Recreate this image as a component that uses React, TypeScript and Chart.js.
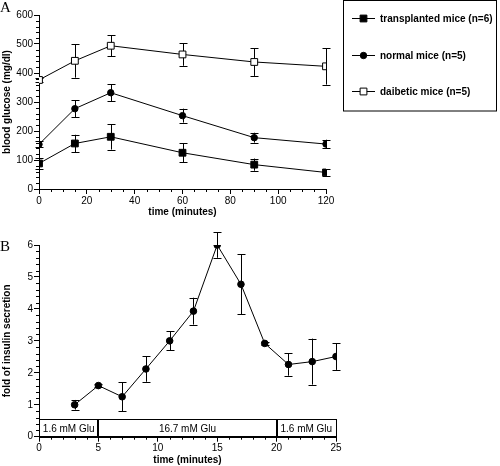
import React, { useEffect, useRef } from "react";
import { Chart, registerables } from "chart.js";

Chart.register(...registerables);

// ---------- Panel A data ----------
const timeA = [0, 15, 30, 60, 90, 120];
const transplanted = [88, 157, 180, 125, 84, 57];
const transplantedErr = [18, 30, 44, 33, 21, 12];
const normal = [154, 277, 332, 253, 177, 155];
const normalErr = [10, 29, 30, 24, 17, 15];
const diabetic = [376, 442, 494, 464, 438, 423];
const diabeticErr = [8, 58, 37, 39, 48, 63];
const seriesLabelsA = ["transplanted mice (n=6)", "normal mice (n=5)", "daibetic mice (n=5)"];

// ---------- Panel B data ----------
const timeB = [3, 5, 7, 9, 11, 13, 15, 17, 19, 21, 23, 25];
const insulin = [1.0, 1.6, 1.25, 2.12, 3.0, 3.93, 6.0, 4.77, 2.92, 2.26, 2.35, 2.51];
const insulinErr = [0.15, 0.05, 0.45, 0.4, 0.3, 0.42, 0.4, 0.94, 0.05, 0.35, 0.72, 0.42];
const glucoseSegmentLabels = ["1.6 mM Glu", "16.7 mM Glu", "1.6 mM Glu"];
const glucoseSegmentBounds = [0, 5, 20, 25];
const glucoseBoxTop = 0.55;

const SANS = "'Liberation Sans', Arial, Helvetica, sans-serif";
const SERIF = "'Liberation Serif', 'Times New Roman', serif";

const pts = (xs: number[], ys: number[]) => xs.map((x, i) => ({ x, y: ys[i] }));

function drawMarker(ctx: CanvasRenderingContext2D, style: string, x: number, y: number, r: number, fill: string) {
  ctx.save();
  ctx.fillStyle = fill;
  ctx.strokeStyle = "#000";
  ctx.lineWidth = 1;
  ctx.beginPath();
  if (style === "rect") {
    const s = Math.SQRT1_2 * r;
    ctx.rect(x - s, y - s, 2 * s, 2 * s);
  } else {
    ctx.arc(x, y, r, 0, Math.PI * 2);
  }
  ctx.fill();
  ctx.stroke();
  ctx.restore();
}

const errorBarPlugin = {
  id: "errorBars",
  beforeDatasetsDraw(chart: any) {
    const ctx = chart.ctx as CanvasRenderingContext2D;
    const ys = chart.scales.y;
    chart.data.datasets.forEach((ds: any, i: number) => {
      const errs: number[] | undefined = ds.errors;
      if (!errs) return;
      const meta = chart.getDatasetMeta(i);
      ctx.save();
      ctx.strokeStyle = "#000";
      ctx.lineWidth = 1;
      ds.data.forEach((p: any, j: number) => {
        const x = Math.round(meta.data[j].x) + 0.5;
        const yT = ys.getPixelForValue(p.y + errs[j]);
        const yB = ys.getPixelForValue(p.y - errs[j]);
        ctx.beginPath();
        ctx.moveTo(x, yT);
        ctx.lineTo(x, yB);
        ctx.moveTo(x - 4, Math.round(yT) + 0.5);
        ctx.lineTo(x + 4, Math.round(yT) + 0.5);
        ctx.moveTo(x - 4, Math.round(yB) + 0.5);
        ctx.lineTo(x + 4, Math.round(yB) + 0.5);
        ctx.stroke();
      });
      ctx.restore();
    });
  },
};

const isMultiple = (v: number, step: number) => Math.abs(v / step - Math.round(v / step)) < 1e-6;

const minorTickPlugin = {
  id: "minorTicks",
  afterDraw(chart: any, _args: any, opts: any) {
    if (!opts || !opts.xStep) return;
    const ctx = chart.ctx as CanvasRenderingContext2D;
    const xs = chart.scales.x;
    const ys = chart.scales.y;
    const { bottom, left } = chart.chartArea;
    const len = opts.len || 3;
    ctx.save();
    ctx.strokeStyle = "#000";
    ctx.lineWidth = 1;
    ctx.beginPath();
    for (let i = 0; ; i++) {
      const v = xs.min + i * opts.xStep;
      if (v > xs.max + 1e-9) break;
      if (isMultiple(v, opts.xMajor)) continue;
      const px = Math.round(xs.getPixelForValue(v)) + 0.5;
      ctx.moveTo(px, bottom);
      ctx.lineTo(px, bottom + len);
    }
    for (let i = 0; ; i++) {
      const v = ys.min + i * opts.yStep;
      if (v > ys.max + 1e-9) break;
      if (isMultiple(v, opts.yMajor)) continue;
      const py = Math.round(ys.getPixelForValue(v)) + 0.5;
      ctx.moveTo(left, py);
      ctx.lineTo(left - len, py);
    }
    ctx.stroke();
    ctx.restore();
  },
};

const panelLabelPlugin = {
  id: "panelLabel",
  afterDraw(chart: any, _args: any, opts: any) {
    if (!opts || !opts.text) return;
    const ctx = chart.ctx as CanvasRenderingContext2D;
    ctx.save();
    ctx.fillStyle = "#000";
    ctx.font = `15px ${SERIF}`;
    ctx.textBaseline = "alphabetic";
    ctx.textAlign = "left";
    ctx.fillText(opts.text, opts.x, opts.y);
    ctx.restore();
  },
};

const boxLegendPlugin = {
  id: "boxLegend",
  afterDraw(chart: any, _args: any, opts: any) {
    if (!opts || !opts.show) return;
    const ctx = chart.ctx as CanvasRenderingContext2D;
    ctx.save();
    ctx.strokeStyle = "#000";
    ctx.lineWidth = 1;
    ctx.strokeRect(343.5, 0.5, 153, 110.5);
    const rowsY = [18.5, 55.5, 91.5];
    chart.data.datasets.forEach((ds: any, i: number) => {
      const y = rowsY[i];
      ctx.beginPath();
      ctx.moveTo(352, y);
      ctx.lineTo(375, y);
      ctx.stroke();
      drawMarker(ctx, ds.pointStyle, 363.5, y, ds.pointRadius, ds.pointBackgroundColor);
      ctx.fillStyle = "#000";
      ctx.font = `bold 10px ${SANS}`;
      ctx.textBaseline = "middle";
      ctx.textAlign = "left";
      ctx.fillText(ds.label, 380, y + 0.5);
    });
    ctx.restore();
  },
};

const glucoseBoxPlugin = {
  id: "glucoseBox",
  afterDatasetsDraw(chart: any, _args: any, opts: any) {
    if (!opts || !opts.show) return;
    const ctx = chart.ctx as CanvasRenderingContext2D;
    const xs = chart.scales.x;
    const ys = chart.scales.y;
    const top = Math.round(ys.getPixelForValue(glucoseBoxTop)) + 0.5;
    const bot = Math.round(ys.getPixelForValue(0)) + 0.5;
    const x0 = Math.round(xs.getPixelForValue(glucoseSegmentBounds[0])) + 0.5;
    const x1 = Math.round(xs.getPixelForValue(glucoseSegmentBounds[glucoseSegmentBounds.length - 1])) + 0.5;
    ctx.save();
    ctx.strokeStyle = "#000";
    ctx.lineWidth = 1;
    ctx.strokeRect(x0, top, x1 - x0, bot - top);
    ctx.lineWidth = 2;
    for (let i = 1; i < glucoseSegmentBounds.length - 1; i++) {
      const px = Math.round(xs.getPixelForValue(glucoseSegmentBounds[i]));
      ctx.beginPath();
      ctx.moveTo(px, top);
      ctx.lineTo(px, bot);
      ctx.stroke();
    }
    ctx.fillStyle = "#000";
    ctx.font = `10px ${SANS}`;
    ctx.textAlign = "center";
    ctx.textBaseline = "middle";
    glucoseSegmentLabels.forEach((lab, i) => {
      const a = xs.getPixelForValue(glucoseSegmentBounds[i]);
      const b = xs.getPixelForValue(glucoseSegmentBounds[i + 1]);
      ctx.fillText(lab, (a + b) / 2, (top + bot) / 2 + 0.5);
    });
    ctx.restore();
  },
};

const tickFont = { family: SANS, size: 10 };
const titleFont = { family: SANS, size: 10, weight: "bold" as const };

function axisX(min: number, max: number, step: number, height: number) {
  return {
    type: "linear" as const,
    min,
    max,
    ticks: { stepSize: step, color: "#000", font: tickFont, padding: 1, maxRotation: 0 },
    grid: { drawOnChartArea: false, color: "#000", tickLength: 5, tickColor: "#000" },
    border: { color: "#000", width: 1 },
    title: { display: true, text: "time (minutes)", color: "#000", font: titleFont, padding: 0 },
    afterFit: (s: any) => {
      s.height = height;
    },
  };
}

function axisY(min: number, max: number, step: number, title: string) {
  return {
    type: "linear" as const,
    min,
    max,
    ticks: { stepSize: step, color: "#000", font: tickFont, padding: 1 },
    grid: { drawOnChartArea: false, color: "#000", tickLength: 5, tickColor: "#000" },
    border: { color: "#000", width: 1 },
    title: { display: true, text: title, color: "#000", font: titleFont, padding: { top: 1.4, bottom: 0 } },
    afterFit: (s: any) => {
      s.width = 39;
    },
  };
}

export default function App() {
  const refA = useRef<HTMLCanvasElement>(null);
  const refB = useRef<HTMLCanvasElement>(null);

  useEffect(() => {
    const base = {
      borderColor: "#000",
      borderWidth: 1,
      tension: 0,
      pointBorderColor: "#000",
      pointBorderWidth: 1,
      fill: false,
    };
    const chartA = new Chart(refA.current!, {
      type: "line",
      data: {
        datasets: [
          {
            ...base,
            label: seriesLabelsA[0],
            data: pts(timeA, transplanted),
            errors: transplantedErr,
            pointStyle: "rect",
            pointRadius: 4.8,
            pointBackgroundColor: "#000",
          } as any,
          {
            ...base,
            label: seriesLabelsA[1],
            data: pts(timeA, normal),
            errors: normalErr,
            pointStyle: "circle",
            pointRadius: 3.2,
            pointBackgroundColor: "#000",
          } as any,
          {
            ...base,
            label: seriesLabelsA[2],
            data: pts(timeA, diabetic),
            errors: diabeticErr,
            pointStyle: "rect",
            pointRadius: 4.8,
            pointBackgroundColor: "#fff",
          } as any,
        ],
      },
      options: {
        responsive: false,
        animation: false,
        layout: { padding: { top: 15, right: 174, bottom: 11.4, left: 0 } },
        plugins: {
          legend: { display: false },
          tooltip: { enabled: false },
          minorTicks: { xStep: 5, xMajor: 20, yStep: 20, yMajor: 100, len: 3 },
          panelLabel: { text: "A", x: 0, y: 12 },
          boxLegend: { show: true },
        } as any,
        scales: {
          x: axisX(0, 120, 20, 29.6),
          y: axisY(0, 600, 100, "blood glucose (mg/dl)"),
        },
      },
      plugins: [errorBarPlugin, minorTickPlugin, panelLabelPlugin, boxLegendPlugin],
    });

    const chartB = new Chart(refB.current!, {
      type: "line",
      data: {
        datasets: [
          {
            ...base,
            label: "fold of insulin secretion",
            data: pts(timeB, insulin),
            errors: insulinErr,
            pointStyle: "circle",
            pointRadius: 3.3,
            pointBackgroundColor: "#000",
          } as any,
        ],
      },
      options: {
        responsive: false,
        animation: false,
        layout: { padding: { top: 15, right: 164, bottom: 0, left: 0 } },
        plugins: {
          legend: { display: false },
          tooltip: { enabled: false },
          minorTicks: { xStep: 1, xMajor: 5, yStep: 0.2, yMajor: 1, len: 3 },
          panelLabel: { text: "B", x: 0, y: 21 },
          glucoseBox: { show: true },
        } as any,
        scales: {
          x: axisX(0, 25, 5, 29.3),
          y: axisY(0, 6, 1, "fold of insulin secretion"),
        },
      },
      plugins: [errorBarPlugin, minorTickPlugin, panelLabelPlugin, glucoseBoxPlugin],
    });

    return () => {
      chartA.destroy();
      chartB.destroy();
    };
  }, []);

  return (
    <div style={{ position: "absolute", left: 0, top: 0, width: 500, height: 466, background: "#fff" }}>
      <canvas ref={refA} width={500} height={230} style={{ position: "absolute", left: 0, top: 0 }} />
      <canvas ref={refB} width={500} height={236} style={{ position: "absolute", left: 0, top: 230 }} />
    </div>
  );
}
